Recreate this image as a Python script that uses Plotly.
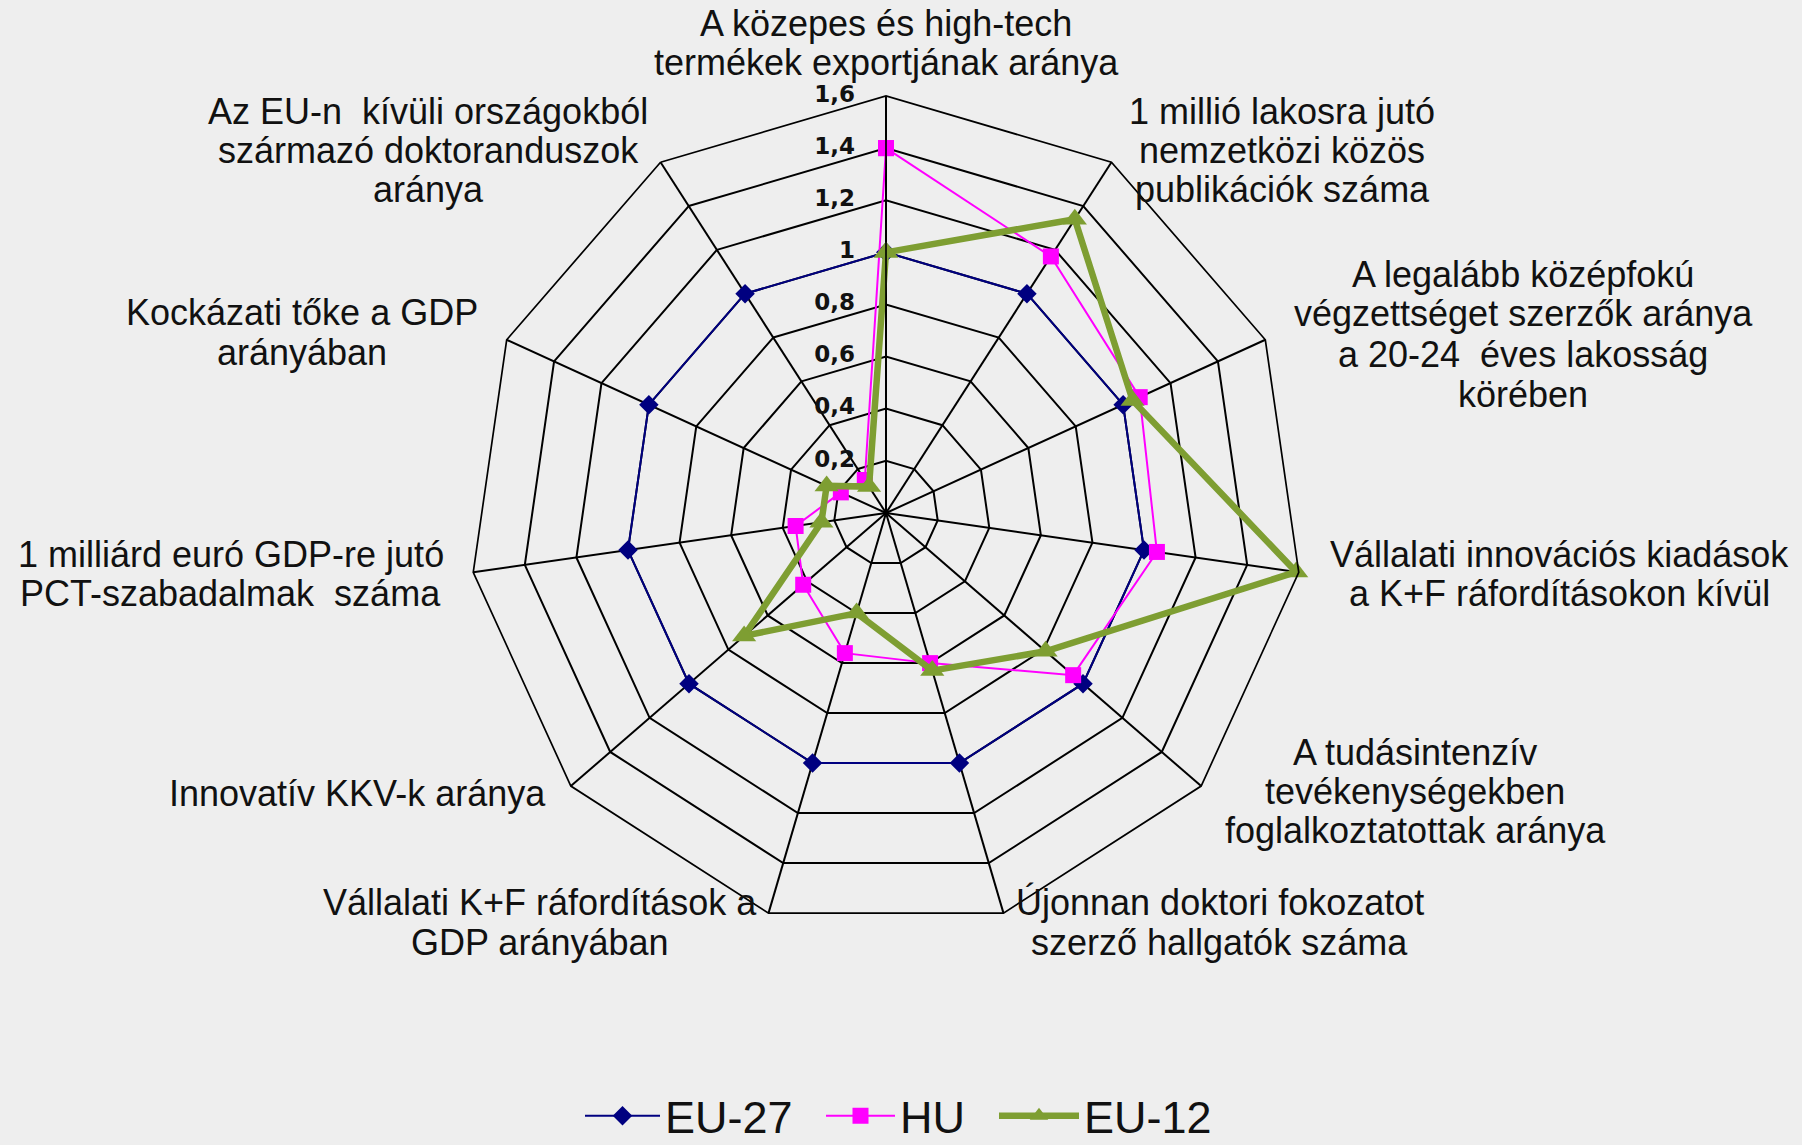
import plotly.graph_objects as go

# ---- data ----
categories = [
    "A közepes és high-tech<br>termékek exportjának aránya",
    "1 millió lakosra jutó<br>nemzetközi közös<br>publikációk száma",
    "A legalább középfokú<br>végzettséget szerzők aránya<br>a 20-24\u00a0 éves lakosság<br>körében",
    "Vállalati innovációs kiadások<br>a K+F ráfordításokon kívül",
    "A tudásintenzív<br>tevékenységekben<br>foglalkoztatottak aránya",
    "Újonnan doktori fokozatot<br>szerző hallgatók száma",
    "Vállalati K+F ráfordítások a<br>GDP arányában",
    "Innovatív KKV-k aránya",
    "1 milliárd euró GDP-re jutó<br>PCT-szabadalmak\u00a0 száma",
    "Kockázati tőke a GDP<br>arányában",
    "Az EU-n\u00a0 kívüli országokból<br>származó doktoranduszok<br>aránya",
]
eu27 = [1.00, 1.00, 1.00, 1.00, 1.00, 1.00, 1.00, 1.00, 1.00, 1.00, 1.00]
hu = [1.40, 1.17, 1.07, 1.05, 0.95, 0.60, 0.56, 0.42, 0.35, 0.19, 0.15]
eu12 = [1.00, 1.34, 1.04, 1.59, 0.81, 0.63, 0.40, 0.72, 0.25, 0.25, 0.12]
series_names = ["EU-27", "HU", "EU-12"]
tick_values = [0, 0.2, 0.4, 0.6, 0.8, 1.0, 1.2, 1.4, 1.6]
tick_labels = ["0", "0,2", "0,4", "0,6", "0,8", "1", "1,2", "1,4", "1,6"]

# ---- layout constants ----
W, H = 1802, 1145
CX, CY, R = 886, 513, 417
BG = "#EEEEEE"

# label line centres (pixels), one entry per category
label_pos = [
    (886, [23, 63]),
    (1282, [111.5, 150.5, 189.6]),
    (1523, [274.7, 313.7, 354, 394.2]),
    (1559, [554, 593]),
    (1415, [752.7, 791.8, 830.9]),
    (1219.5, [902, 942]),
    (540, [902, 942]),
    (357.4, [793]),
    (230.5, [554, 593]),
    (301.5, [312.6, 352.8]),
    (428, [111.5, 150.5, 189.6]),
]
# legend entry left edges (pixels) and symbol widths
legend_x = [580, 821, 994]
legend_itemwidth = [75, 69, 80]

theta = [c.replace("<br>", " ") for c in categories]
theta_closed = theta + theta[:1]

def closed(v):
    return list(v) + list(v[:1])

fig = go.Figure()
fig.add_trace(go.Scatterpolar(
    r=closed(eu27), theta=theta_closed, name=series_names[0], mode="lines+markers",
    line=dict(color="#000080", width=2),
    marker=dict(symbol="diamond", size=15, color="#000080"),
    legend="legend",
))
fig.add_trace(go.Scatterpolar(
    r=closed(hu), theta=theta_closed, name=series_names[1], mode="lines+markers",
    line=dict(color="#FF00FF", width=2),
    marker=dict(symbol="square", size=16, color="#FF00FF"),
    legend="legend2",
))
fig.add_trace(go.Scatterpolar(
    r=closed(eu12), theta=theta_closed, name=series_names[2], mode="lines+markers",
    line=dict(color="#7E9E32", width=6.5),
    marker=dict(symbol="triangle-up", size=21, color="#7E9E32"),
    legend="legend3",
))
# radial tick labels, placed on the top spoke through the polar scale
fig.add_trace(go.Scatterpolar(
    r=tick_values, theta=[theta[0]] * len(tick_values), text=tick_labels,
    mode="markers+text", textposition="middle left",
    marker=dict(size=48, color="rgba(0,0,0,0)"),
    textfont=dict(family="DejaVu Sans", size=23, color="#111111", weight="bold"),
    showlegend=False, hoverinfo="skip", cliponaxis=False,
))

annotations = []
for cat, (px, ys) in zip(categories, label_pos):
    for line, py in zip(cat.split("<br>"), ys):
        annotations.append(dict(
            text=line, x=px / W, y=1 - py / H, xref="paper", yref="paper",
            xanchor="center", yanchor="middle", showarrow=False,
            font=dict(family="Liberation Sans, Arial", size=36, color="#111111"),
        ))

def legend_style(i):
    return dict(
        orientation="h", x=legend_x[i] / W, xanchor="left", y=29 / H, yanchor="middle",
        font=dict(family="Liberation Sans, Arial", size=45, color="#111111"),
        bgcolor="rgba(0,0,0,0)", itemwidth=legend_itemwidth[i],
    )

fig.update_layout(
    width=W, height=H,
    margin=dict(l=0, r=0, t=0, b=0, autoexpand=False),
    paper_bgcolor=BG, plot_bgcolor=BG,
    separators=",.",
    showlegend=True,
    legend=legend_style(0),
    legend2=legend_style(1),
    legend3=legend_style(2),
    annotations=annotations,
    polar=dict(
        domain=dict(x=[(CX - R) / W, (CX + R) / W], y=[(H - CY - R) / H, (H - CY + R) / H]),
        bgcolor=BG,
        gridshape="linear",
        angularaxis=dict(
            direction="clockwise", rotation=90, type="category",
            categoryorder="array", categoryarray=theta,
            showticklabels=False, ticks="",
            showgrid=True, gridcolor="black", gridwidth=1.7,
            showline=True, linecolor="black", linewidth=1.7,
        ),
        radialaxis=dict(
            range=[-0.0005, 1.6], tick0=0, dtick=0.2, angle=90,
            showline=True, linecolor="black", linewidth=1.7,
            showgrid=True, gridcolor="black", gridwidth=1.7,
            showticklabels=False, ticks="",
        ),
    ),
)

fig.write_html("out.html", config={"displayModeBar": False},
               post_script="document.body.style.margin='0px';")
